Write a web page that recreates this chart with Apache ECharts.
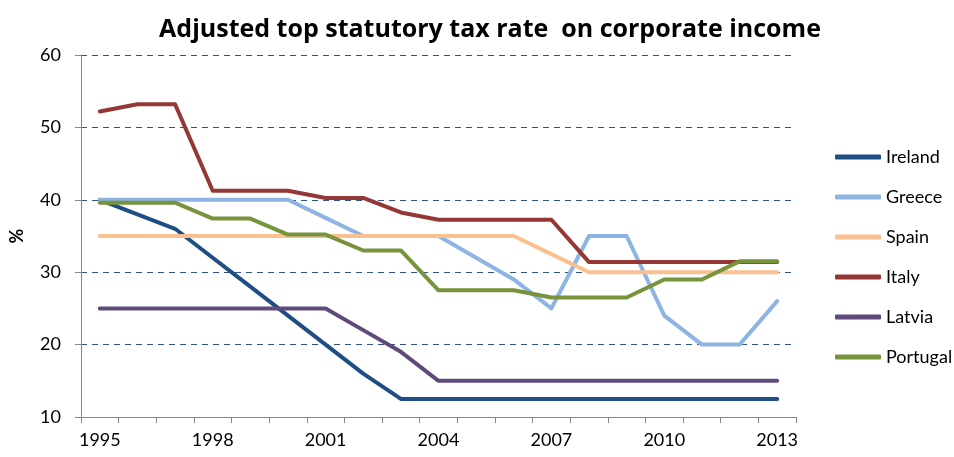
<!DOCTYPE html>
<html>
<head>
<meta charset="utf-8">
<script src="https://cdn.jsdelivr.net/npm/echarts@6/dist/echarts.min.js"></script>
<style>html,body{margin:0;padding:0;background:#fff;}#c{width:954px;height:457px;}</style>
</head>
<body>
<div id="c"></div>
<script>
const years = ['1995','1996','1997','1998','1999','2000','2001','2002','2003','2004','2005','2006','2007','2008','2009','2010','2011','2012','2013'];
const ireland  = [40, 38, 36, 32, 28, 24, 20, 16, 12.5, 12.5, 12.5, 12.5, 12.5, 12.5, 12.5, 12.5, 12.5, 12.5, 12.5];
const greece   = [40, 40, 40, 40, 40, 40, 37.5, 35, 35, 35, 32, 29, 25, 35, 35, 24, 20, 20, 26];
const spain    = [35, 35, 35, 35, 35, 35, 35, 35, 35, 35, 35, 35, 32.5, 30, 30, 30, 30, 30, 30];
const italy    = [52.2, 53.2, 53.2, 41.25, 41.25, 41.25, 40.25, 40.25, 38.25, 37.25, 37.25, 37.25, 37.25, 31.4, 31.4, 31.4, 31.4, 31.4, 31.4];
const latvia   = [25, 25, 25, 25, 25, 25, 25, 22, 19, 15, 15, 15, 15, 15, 15, 15, 15, 15, 15];
const portugal = [39.6, 39.6, 39.6, 37.4, 37.4, 35.2, 35.2, 33, 33, 27.5, 27.5, 27.5, 26.5, 26.5, 26.5, 29, 29, 31.5, 31.5];

const seriesDefs = [
  ['Ireland', ireland, '#1F4E85'],
  ['Greece', greece, '#8DB4E2'],
  ['Spain', spain, '#FAC090'],
  ['Italy', italy, '#953735'],
  ['Latvia', latvia, '#604A7B'],
  ['Portugal', portugal, '#77933C']
];
const FONT = 'Lato';
const chart = echarts.init(document.getElementById('c'), null, {renderer: 'canvas'});
chart.setOption({
  animation: false,
  backgroundColor: '#fff',
  title: {
    text: 'Adjusted top statutory tax rate  on corporate income',
    left: 485, top: 12, textAlign: 'center',
    textStyle: {fontFamily: 'Open Sans', fontWeight: 'bold', fontSize: 25, color: '#000'}
  },
  legend: {
    orient: 'vertical', left: 830, top: 143,
    itemWidth: 46, itemHeight: 5, itemGap: 22, icon: 'roundRect',
    textStyle: {fontFamily: FONT, fontSize: 18, color: '#000', lineHeight: 18},
    data: seriesDefs.map(d => d[0])
  },
  grid: {left: 79, right: 158, top: 55, bottom: 40, containLabel: false},
  xAxis: {
    type: 'category', data: years, boundaryGap: true,
    axisLine: {lineStyle: {color: '#868686', width: 1}},
    axisTick: {show: true, interval: 0, length: 6, lineStyle: {color: '#868686'}},
    axisLabel: {interval: 2, margin: 14, fontFamily: FONT, fontSize: 18, color: '#000'}
  },
  yAxis: {
    type: 'value', min: 10, max: 60, interval: 10,
    name: '%', nameLocation: 'middle', nameGap: 55, nameRotate: 90,
    nameTextStyle: {fontFamily: FONT, fontWeight: 'bold', fontSize: 18, color: '#000'},
    axisLine: {show: true, lineStyle: {color: '#868686', width: 1}},
    axisTick: {show: true, length: 6, lineStyle: {color: '#868686'}},
    axisLabel: {margin: 20, fontFamily: FONT, fontSize: 18, color: '#000'},
    splitLine: {show: true, lineStyle: {color: '#2E528A', type: [6, 5], width: 1.2}}
  },
  series: seriesDefs.map(d => ({
    name: d[0], type: 'line', data: d[1], symbol: 'none', showSymbol: false,
    itemStyle: {color: d[2]},
    lineStyle: {color: d[2], width: 4, cap: 'round', join: 'round'}
  }))
});
</script>
</body>
</html>
